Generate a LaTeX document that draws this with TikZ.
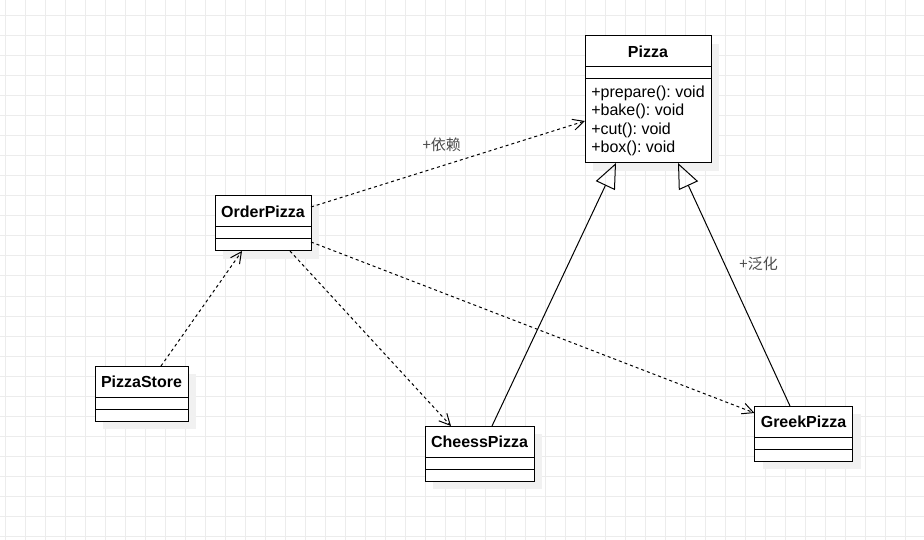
\documentclass[tikz,border=0pt]{standalone}
\usepackage{fontspec}
\setmainfont{Liberation Sans}
\newfontfamily\cjkfont{Noto Sans CJK SC}
\usetikzlibrary{positioning,shadows,arrows.meta}
\frenchspacing
\definecolor{GridColor}{rgb}{0.925,0.925,0.925}
\definecolor{ShadowColor}{rgb}{0.945,0.945,0.945}
\definecolor{LabelColor}{rgb}{0.3,0.3,0.3}
\tikzset{
    classbox/.style={rectangle, draw, fill=white, line width=1pt, inner sep=0pt, outer sep=0pt,
        font=\fontsize{16}{18.5}\selectfont,
        drop shadow={shadow xshift=8pt, shadow yshift=-8pt, fill=ShadowColor, opacity=1}},
    classname/.style={classbox, minimum height=31pt, font=\fontsize{16}{18.5}\selectfont\bfseries},
    classrow/.style={classbox, minimum height=12pt},
    depend/.style={-{Straight Barb[length=11pt, width=11pt]}, line width=1pt, dash pattern=on 3pt off 3pt},
    extend/.style={-{Triangle[open, length=25pt, width=21pt]}, line width=1pt},
    edgelabel/.style={font=\cjkfont\fontsize{15}{18}\selectfont, text=LabelColor},
    gridline/.style={GridColor, line width=1pt}
}

\begin{document}
\begin{tikzpicture}[x=1pt, y=-1pt]

% Canvas and grid
\useasboundingbox (0,0) rectangle (924,540);
\fill [white] (0,0) rectangle (924,540);
\foreach \gx in {5.5,25.5,...,905.5} \draw [gridline] (\gx,0) -- (\gx,540);
\foreach \gy in {16,36,...,536} \draw [gridline] (0,\gy) -- (924,\gy);

% Pizza
\node (pizza) [classname, minimum width=126pt, anchor=north west] at (585,36) {Pizza};
\node (pizzaAttr) [classrow, minimum width=126pt, below=0pt of pizza] {};
\node (pizzaOps) [classrow, minimum height=84pt, minimum width=126pt, align=left, below=0pt of pizzaAttr] {+prepare(): void\\+bake(): void\\+cut(): void\\+box(): void};

% OrderPizza
\node (order) [classname, minimum width=96pt, anchor=north west] at (215,196) {OrderPizza};
\node (orderAttr) [classrow, minimum width=96pt, below=0pt of order] {};
\node (orderOps) [classrow, minimum width=96pt, below=0pt of orderAttr] {};

% PizzaStore
\node (store) [classname, minimum width=93pt, anchor=north west] at (95,366) {PizzaStore};
\node (storeAttr) [classrow, minimum width=93pt, below=0pt of store] {};
\node (storeOps) [classrow, minimum width=93pt, below=0pt of storeAttr] {};

% CheessPizza
\node (cheess) [classname, minimum width=109pt, anchor=north west] at (425,426) {CheessPizza};
\node (cheessAttr) [classrow, minimum width=109pt, below=0pt of cheess] {};
\node (cheessOps) [classrow, minimum width=109pt, below=0pt of cheessAttr] {};

% GreekPizza
\node (greek) [classname, minimum width=98pt, anchor=north west] at (754.5,406) {GreekPizza};
\node (greekAttr) [classrow, minimum width=98pt, below=0pt of greek] {};
\node (greekOps) [classrow, minimum width=98pt, below=0pt of greekAttr] {};

% Dependencies
\draw [depend] ([yshift=4.5pt]order.east) -- node[edgelabel, pos=0.477, yshift=21pt] {+依赖} (pizzaOps.west);
\draw [depend] ([xshift=27pt]orderOps.south) -- ([xshift=-28.5pt]cheess.north);
\draw [depend] ([yshift=3pt]orderOps.east) -- ([yshift=8.5pt]greek.west);
\draw [depend] ([xshift=19.5pt]store.north) -- ([xshift=-21pt]orderOps.south);

% Generalizations
\draw [extend] ([xshift=12.5pt]cheess.north) -- ([xshift=-32pt]pizzaOps.south);
\draw [extend] ([xshift=-13.5pt]greek.north) -- node[edgelabel, pos=0.584, xshift=34pt] {+泛化} ([xshift=30pt]pizzaOps.south);

\end{tikzpicture}
\end{document}
